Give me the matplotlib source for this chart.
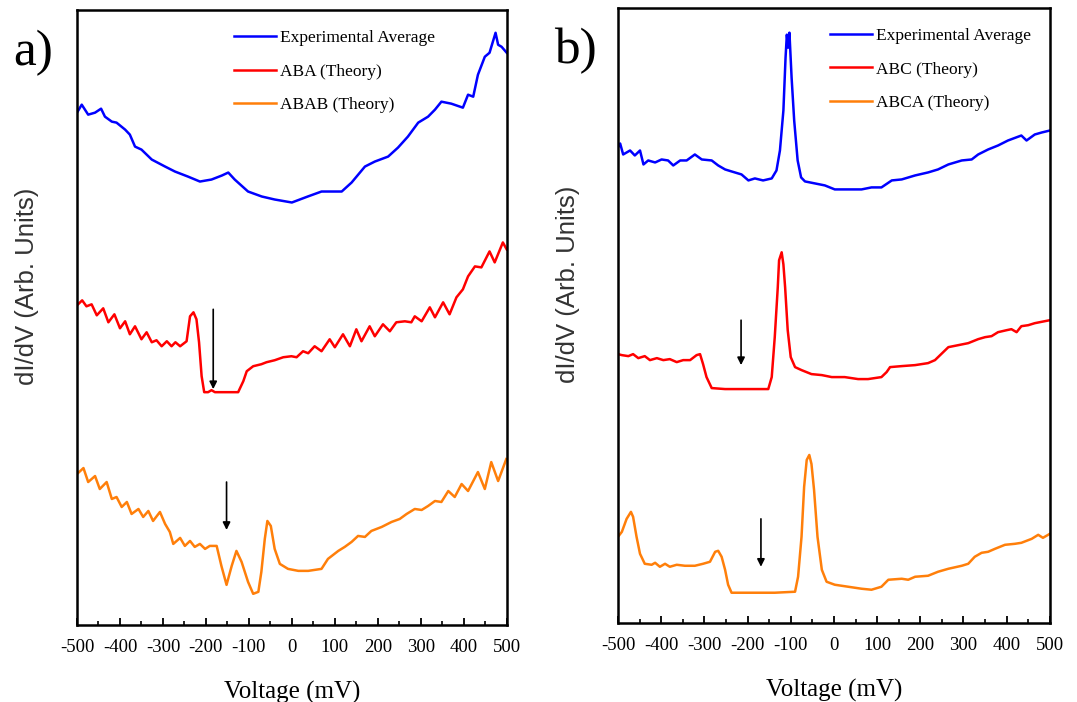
import numpy as np
import matplotlib
matplotlib.use("Agg")
import matplotlib.pyplot as plt
from matplotlib.ticker import MultipleLocator

plt.rcParams['axes.unicode_minus'] = False

# ---- panel a) data (voltage in mV, dI/dV in arbitrary units) ----
a_exp_v = [-500, -489, -474, -458, -444, -435, -419, -408, -388, -377, -365, -350, -326, -295,
           -272, -242, -214, -187, -163, -148, -133, -102, -70, -40, 0, 37, 69, 116, 139, 170,
           193, 224, 247, 270, 294, 317, 333, 348, 371, 398, 410, 422, 433, 449, 460, 474, 480,
           488, 500]
a_exp_y = [513, 521, 511, 513, 517, 509, 504, 503, 496, 491, 479, 476, 466, 459,
           454, 449, 444, 446, 450, 453, 446, 434, 429, 426, 423, 429, 434, 434, 443, 459,
           464, 469, 478, 489, 503, 509, 516, 524, 522, 518, 531, 529, 551, 569, 573, 593, 581,
           579, 573]

aba_v = [-500, -488, -478, -466, -454, -439, -427, -413, -400, -388, -377, -365, -350, -338,
         -326, -315, -303, -291, -280, -271, -260, -245, -237, -229, -222, -216, -210, -204,
         -195, -187, -179, -125, -113, -105, -90, -71, -59, -40, -20, -1, 11, 26, 38, 53, 69,
         88, 100, 119, 135, 150, 162, 181, 193, 212, 228, 243, 263, 278, 286, 302, 321, 333,
         352, 367, 383, 398, 410, 426, 441, 460, 472, 491, 500]
aba_y = [320, 325, 319, 321, 310, 317, 303, 311, 297, 304, 291, 299, 286, 293,
         283, 285, 279, 284, 279, 283, 279, 284, 309, 313, 306, 283, 249, 233,
         233, 235, 233, 233, 244, 254, 259, 261, 263, 265, 268, 269, 268, 274, 272, 279, 274,
         286, 278, 291, 279, 296, 284, 299, 289, 301, 294, 303, 304, 303, 309, 304, 318, 308,
         323, 311, 328, 336, 349, 359, 358, 374, 363, 383, 376]

abab_v = [-500, -485, -474, -458, -447, -431, -419, -408, -396, -384, -373, -357, -346, -334,
          -323, -307, -295, -284, -276, -260, -249, -237, -226, -214, -202, -191, -175, -164,
          -152, -140, -129, -117, -102, -90, -78, -71, -63, -57, -49, -40, -28, -9, 15, 38, 69,
          84, 108, 123, 139, 154, 170, 185, 209, 232, 251, 267, 286, 302, 317, 333, 348, 364,
          379, 395, 410, 433, 449, 464, 480, 499]
abab_y = [151, 157, 143, 149, 136, 143, 126, 128, 118, 123, 111, 116, 108, 114,
          104, 113, 101, 93, 81, 87, 79, 84, 78, 81, 76, 79, 79, 59,
          40, 59, 74, 63, 43, 31, 33, 53, 86, 104, 99, 76, 61, 56, 54, 54, 56,
          66, 74, 78, 83, 89, 88, 94, 98, 103, 106, 111, 116, 115, 119, 124, 123, 134,
          128, 141, 134, 153, 136, 163, 144, 166]

# ---- panel b) data ----
b_exp_v = [-500, -495, -488, -472, -461, -449, -441, -430, -414, -399, -384, -372, -356, -341,
           -322, -306, -283, -268, -252, -237, -214, -198, -183, -164, -144, -133, -125, -117,
           -112, -109, -106, -103, -98, -92, -84, -76, -67, -44, -21, 2, 33, 64, 87, 110, 134,
           157, 188, 218, 241, 265, 296, 319, 334, 357, 380, 403, 434, 446, 465, 481, 500]
b_exp_y = [476, 480, 469, 473, 468, 473, 459, 463, 461, 464, 463, 458, 463, 463,
           469, 464, 463, 458, 454, 452, 449, 443, 445, 443, 445, 453, 473, 513,
           566, 589, 576, 591, 546, 503, 463, 446, 442, 440, 438, 434, 434, 434, 436, 436, 443,
           444, 448, 451, 454, 459, 463, 464, 469, 474, 478, 483, 488, 483, 489, 491, 493]

abc_v = [-500, -491, -476, -465, -453, -438, -426, -410, -395, -380, -364, -349, -333, -318,
         -310, -303, -295, -283, -252, -198, -152, -144, -137, -130, -127, -121, -117, -113,
         -107, -100, -90, -75, -52, -28, -5, 25, 56, 79, 110, 122, 130, 157, 188, 218, 234,
         265, 288, 311, 334, 350, 365, 380, 400, 411, 423, 434, 450, 465, 500]
abc_y = [269, 268, 267, 269, 265, 267, 263, 265, 263, 264, 261, 263, 263, 268,
         269, 259, 246, 235, 234, 234, 234, 246, 286, 336, 363, 371, 359, 336,
         293, 266, 256, 253, 249, 248, 246, 246, 244, 244, 246, 251, 256, 257, 258, 260, 263,
         276, 278, 280, 284, 286, 287, 291, 293, 294, 291, 297, 298, 300, 303]

abca_v = [-500, -491, -480, -470, -465, -457, -449, -438, -422, -414, -403, -391, -380, -364,
          -345, -322, -303, -287, -275, -268, -260, -252, -245, -237, -198, -137, -90, -83,
          -75, -69, -63, -57, -52, -46, -38, -28, -17, 2, 33, 64, 87, 110, 126, 157, 172, 188,
          218, 241, 265, 296, 311, 326, 342, 357, 373, 396, 419, 434, 458, 473, 484, 500]
abca_y = [86, 91, 104, 111, 106, 86, 69, 59, 58, 60, 56, 59, 56, 58,
          57, 57, 59, 61, 71, 72, 66, 53, 38, 30, 30, 30, 31, 46,
          86, 136, 163, 168, 159, 133, 86, 53, 41, 38, 36, 34, 33, 36, 43, 44, 43, 46,
          47, 51, 54, 57, 59, 66, 70, 71, 74, 78, 79, 80, 84, 88, 85, 89]

# arrows: (voltage, start, end)
a_arrows = [(-183, 316, 236), (-152, 143, 95)]
b_arrows = [(-215, 303, 258), (-169, 104, 56)]

blue = '#0000FF'
red = '#FF0000'
orange = '#FF7F0A'
serif = 'Liberation Serif'

fig = plt.figure(figsize=(10.77, 7.02), dpi=100)
ax1 = fig.add_axes([0.0715, 0.110, 0.399, 0.876])
ax2 = fig.add_axes([0.5738, 0.113, 0.401, 0.876])

panels = [
    (ax1, a_exp_v, a_exp_y, aba_v, aba_y, abab_v, abab_y,
     ['Experimental Average', 'ABA (Theory)', 'ABAB (Theory)'], a_arrows, 'a)', 0.349),
    (ax2, b_exp_v, b_exp_y, abc_v, abc_y, abca_v, abca_y,
     ['Experimental Average', 'ABC (Theory)', 'ABCA (Theory)'], b_arrows, 'b)', 0.475),
]

for ax, ev, ey, t1v, t1y, t2v, t2y, labels, arrows, tag, legx in panels:
    ax.plot(ev, ey, color=blue, lw=1.8, label=labels[0])
    ax.plot(t1v, t1y, color=red, lw=1.8, label=labels[1])
    ax.plot(t2v, t2y, color=orange, lw=1.8, label=labels[2])
    for v, y0, y1 in arrows:
        ax.annotate('', xy=(v, y1), xytext=(v, y0),
                    arrowprops=dict(arrowstyle='-|>', color='black', lw=1.2,
                                    mutation_scale=11, shrinkA=0, shrinkB=0))
    ax.set_xlim(-500, 500)
    ax.set_ylim(0, 616)
    ax.set_yticks([])
    ax.xaxis.set_major_locator(MultipleLocator(100))
    ax.xaxis.set_minor_locator(MultipleLocator(50))
    ax.tick_params(axis='x', which='major', direction='in', length=5, width=1.3,
                   labelsize=13.5, pad=10)
    ax.tick_params(axis='x', which='minor', direction='in', length=3, width=1.2)
    for lab in ax.get_xticklabels():
        lab.set_fontfamily(serif)
    for s in ax.spines.values():
        s.set_linewidth(1.8)
    ax.set_xlabel('Voltage (mV)', fontsize=18, fontfamily=serif, labelpad=18)
    ax.set_ylabel('dI/dV (Arb. Units)', fontsize=18.5, fontfamily='Liberation Sans',
                  color='#333333')
    ax.yaxis.set_label_coords(-0.088, 0.55)
    ax.legend(loc='upper left', bbox_to_anchor=(legx, 0.978), frameon=False,
              prop={'family': serif, 'size': 12.5}, handlelength=2.4,
              handletextpad=0.25, labelspacing=0.98, borderaxespad=0)
    ax.text(-0.148, 0.93, tag, transform=ax.transAxes, fontsize=37,
            fontfamily=serif, ha='left', va='center')

fig.savefig('out.png', dpi=100)
